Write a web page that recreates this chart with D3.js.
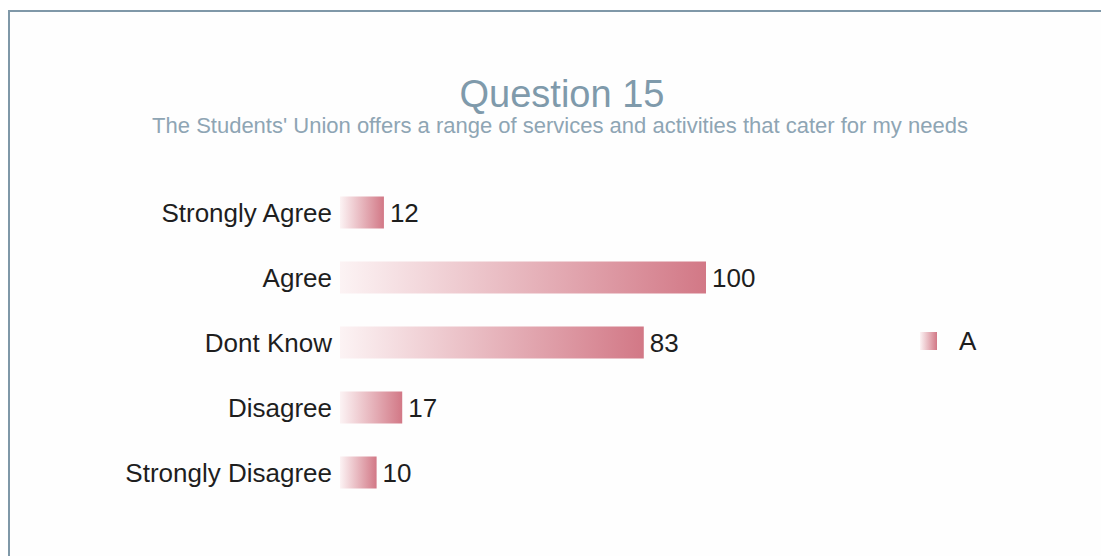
<!DOCTYPE html>
<html>
<head>
<meta charset="utf-8">
<script src="https://cdn.jsdelivr.net/npm/d3@7"></script>
<style>
  html, body { margin: 0; padding: 0; background: #ffffff; }
  svg { display: block; }
</style>
</head>
<body>
<script>
// Survey responses for Question 15
const categories = ["Strongly Agree", "Agree", "Dont Know", "Disagree", "Strongly Disagree"];
const counts = [12, 100, 83, 17, 10];
const seriesName = "A";
const titleText = "Question 15";
const subtitleText = "The Students' Union offers a range of services and activities that cater for my needs";

const W = 1101, H = 556;
const FONT = "Liberation Sans, Arial, sans-serif";
const svg = d3.select("body").append("svg").attr("width", W).attr("height", H);

const defs = svg.append("defs");
const grad = defs.append("linearGradient")
  .attr("id", "barGrad").attr("x1", "0%").attr("x2", "100%").attr("y1", "0%").attr("y2", "0%");
grad.append("stop").attr("offset", "0%").attr("stop-color", "#fcf3f4");
grad.append("stop").attr("offset", "100%").attr("stop-color", "#d27886");

// panel frame
svg.append("rect").attr("x", 9).attr("y", 11).attr("width", W + 10).attr("height", H + 10)
  .attr("fill", "#fefefe").attr("stroke", "#7f98a8").attr("stroke-width", 2);

// titles
svg.append("text").attr("x", 562).attr("y", 107).attr("text-anchor", "middle")
  .attr("font-family", FONT).attr("font-size", 38)
  .attr("fill", "#7f9aab").text(titleText);
svg.append("text").attr("x", 560).attr("y", 133).attr("text-anchor", "middle")
  .attr("font-family", FONT).attr("font-size", 22)
  .attr("fill", "#8ea5b4").text(subtitleText);

// scales
const x = d3.scaleLinear().domain([0, 100]).range([340, 706]);
const y = d3.scaleBand().domain(categories).range([180, 505]).paddingInner(0.5).paddingOuter(0.25);

const rows = categories.map((c, i) => ({ cat: c, val: counts[i] }));

svg.selectAll("rect.bar").data(rows).join("rect")
  .attr("class", "bar")
  .attr("x", x(0))
  .attr("y", d => y(d.cat) + y.bandwidth() / 2 - 16)
  .attr("width", d => x(d.val) - x(0))
  .attr("height", 32)
  .attr("fill", "url(#barGrad)");

// category labels
svg.selectAll("text.cat").data(rows).join("text")
  .attr("class", "cat")
  .attr("x", 332)
  .attr("y", d => y(d.cat) + y.bandwidth() / 2)
  .attr("dy", "0.35em")
  .attr("text-anchor", "end")
  .attr("font-family", FONT)
  .attr("font-size", 26)
  .attr("fill", "#1e1e1e")
  .text(d => d.cat);

// value labels
svg.selectAll("text.val").data(rows).join("text")
  .attr("class", "val")
  .attr("x", d => x(d.val) + 6)
  .attr("y", d => y(d.cat) + y.bandwidth() / 2)
  .attr("dy", "0.35em")
  .attr("font-family", FONT)
  .attr("font-size", 26)
  .attr("fill", "#1e1e1e")
  .text(d => d.val);

// legend
const lg = svg.append("g").attr("transform", "translate(920,332)");
lg.append("rect").attr("width", 17).attr("height", 18).attr("fill", "url(#barGrad)");
lg.append("text").attr("x", 39).attr("y", 9).attr("dy", "0.35em")
  .attr("font-family", FONT).attr("font-size", 26)
  .attr("fill", "#1e1e1e").text(seriesName);
</script>
</body>
</html>
